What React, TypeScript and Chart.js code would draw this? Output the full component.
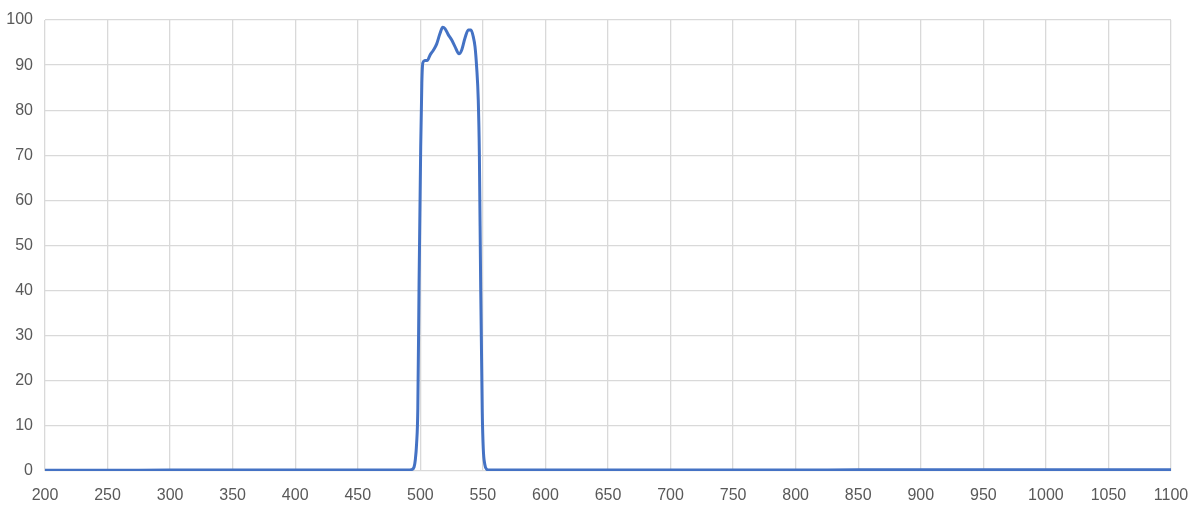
import React, { useEffect, useRef } from "react";
import { Chart, registerables } from "chart.js";

Chart.register(...registerables);

const wavelengths: number[] = [
  200, 250, 300, 350, 400, 450, 480, 490, 493, 495, 496, 497, 498, 499, 500.3, 501.2, 502,
  503.7, 505.9, 507.7, 510.4, 513.1, 515.7, 517.9, 519.7, 522.4, 525, 527.7, 530.9, 533,
  535.7, 538.3, 540.5, 542.3, 543.7, 545, 546.3, 547.2, 548.2, 549.5, 550.3, 551.5, 553,
  555, 560, 600, 650, 700, 750, 800, 850, 900, 950, 1000, 1050, 1100,
];

const transmission: number[] = [
  0.15, 0.15, 0.2, 0.2, 0.2, 0.2, 0.2, 0.2, 0.3, 0.9, 2.5, 6, 14, 42, 72, 86, 90.5,
  91, 91.1, 92.2, 93.3, 94.7, 97, 98.4, 98.1, 96.7, 95.6, 94.1, 92.5, 93.3,
  96, 97.8, 97.8, 96.3, 94.1, 89.6, 82.3, 70, 42, 13, 5, 1.5, 0.4,
  0.2, 0.2, 0.2, 0.2, 0.2, 0.2, 0.2, 0.25, 0.25, 0.25, 0.25, 0.25, 0.25,
];

const X_MIN = 200;
const X_MAX = 1100;
const X_STEP = 50;
const Y_MIN = 0;
const Y_MAX = 100;
const Y_STEP = 10;

export default function App() {
  const canvasRef = useRef<HTMLCanvasElement | null>(null);

  useEffect(() => {
    document.body.style.margin = "0";
    const canvas = canvasRef.current;
    if (!canvas) return;
    const points = wavelengths.map((w, i) => ({ x: w, y: transmission[i] }));
    const tickFont = { family: "'Liberation Sans', Arial, sans-serif", size: 16 };
    const chart = new Chart(canvas, {
      type: "line",
      data: {
        datasets: [
          {
            data: points,
            borderColor: "#4472C4",
            borderWidth: 3,
            pointRadius: 0,
            fill: false,
            cubicInterpolationMode: "monotone",
          },
        ],
      },
      options: {
        animation: false,
        responsive: false,
        maintainAspectRatio: false,
        layout: { padding: { top: 20, right: 24, bottom: 0, left: 0 } },
        plugins: { legend: { display: false }, tooltip: { enabled: false } },
        scales: {
          x: {
            type: "linear",
            min: X_MIN,
            max: X_MAX,
            ticks: {
              stepSize: X_STEP,
              color: "#595959",
              font: tickFont,
              padding: 15,
              maxRotation: 0,
              callback: (v: any) => String(v),
            },
            grid: { color: "#d9d9d9", lineWidth: 1.3, drawTicks: false },
            border: { display: false },
            afterFit: (scale: any) => {
              scale.height = 40;
              scale.paddingLeft = 0;
              scale.paddingRight = 0;
            },
          },
          y: {
            min: Y_MIN,
            max: Y_MAX,
            ticks: { stepSize: Y_STEP, color: "#595959", font: tickFont, padding: 12 },
            grid: { color: "#d9d9d9", lineWidth: 1.3, drawTicks: false },
            border: { display: false },
            afterFit: (scale: any) => {
              scale.width = 45;
              scale.paddingTop = 0;
              scale.paddingBottom = 0;
            },
          },
        },
      },
    });
    return () => chart.destroy();
  }, []);

  return (
    <div style={{ position: "absolute", left: 0, top: 0, width: 1195, height: 511, background: "#fff" }}>
      <canvas ref={canvasRef} width={1195} height={511} style={{ width: 1195, height: 511 }} />
    </div>
  );
}
